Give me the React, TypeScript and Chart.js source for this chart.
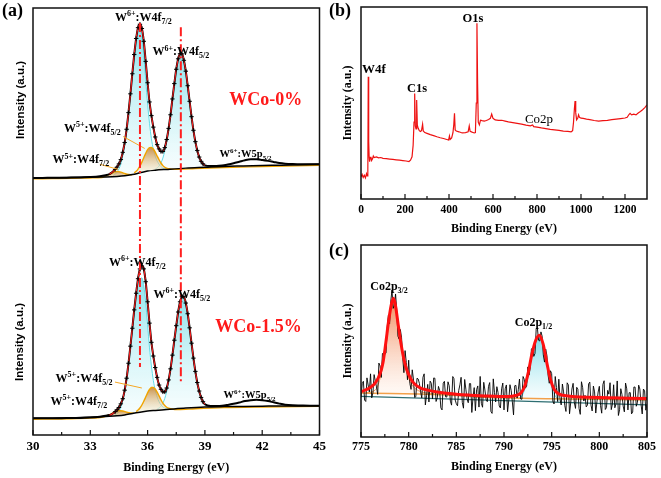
import React, { useEffect, useRef } from 'react';
import { Chart, registerables } from 'chart.js';

Chart.register(...registerables);

const SERIF = '"Liberation Serif", "Times New Roman", serif';
const SANS = '"Liberation Sans", Arial, sans-serif';

// ================= (a) W 4f spectra =================
const aMinorTicks = [31.5, 34.5, 37.5, 40.5, 43.5];
const aX = [30, 30.5, 31, 31.5, 32, 32.5, 33, 33.5, 33.8,
  34.0, 34.1, 34.2, 34.3, 34.4, 34.5, 34.6, 34.7, 34.8, 34.9,
  35.0, 35.1, 35.2, 35.3, 35.4, 35.5, 35.6, 35.7, 35.8, 35.9,
  36.0, 36.1, 36.2, 36.3, 36.4, 36.5, 36.6, 36.7, 36.8, 36.9,
  37.0, 37.1, 37.2, 37.3, 37.4, 37.5, 37.6, 37.7, 37.8, 37.9,
  38.0, 38.1, 38.2, 38.3, 38.4, 38.5, 38.6, 38.7, 38.8, 38.9,
  39.0, 39.3, 39.6, 39.9, 40.2, 40.5, 40.8, 41.1, 41.4, 41.7,
  42.0, 42.3, 42.6, 42.9, 43.2, 43.6, 44.0, 44.5, 45.0];
const aUpper = [60.2, 60.2, 60.25, 60.25, 60.3, 60.3, 60.4, 60.6, 60.85,
  61.1, 61.4, 61.75, 62.2, 62.75, 63.5, 64.5, 66.2, 68.5, 71.6,
  75.5, 79.9, 84.6, 89.1, 92.85, 95.4, 96.2, 95.2, 92.2, 87.5,
  82.5, 78.0, 74.8, 72.1, 69.8, 68.0, 67.0, 66.4, 66.4, 67.3,
  69.2, 71.8, 75.0, 78.7, 82.3, 85.65, 88.1, 89.3, 89.25, 87.75,
  85.2, 81.8, 78.15, 74.55, 71.36, 68.7, 66.65, 65.1, 64.1, 63.5,
  63.15, 63.0, 63.0, 63.1, 63.35, 63.65, 64.0, 64.35, 64.55, 64.55,
  64.4, 64.2, 63.95, 63.7, 63.55, 63.45, 63.4, 63.4, 63.4];
const aLower = [3.9, 3.9, 3.95, 3.95, 4.0, 4.0, 4.1, 4.3, 4.5,
  4.67, 4.8, 5.1, 5.45, 5.9, 6.45, 7.3, 8.5, 10.5, 13.3,
  16.8, 20.8, 25.0, 29.3, 33.2, 36.6, 38.9, 39.6, 38.9, 35.9,
  31.2, 26.2, 21.7, 18.5, 15.8, 13.5, 11.7, 10.7, 10.1, 10.1,
  11.0, 12.9, 15.5, 18.7, 22.2, 25.6, 28.8, 31.2, 32.4, 32.35,
  30.9, 28.4, 25.1, 21.5, 18.0, 14.9, 12.3, 10.3, 8.8, 7.8,
  7.2, 6.8, 6.8, 6.85, 7.05, 7.3, 7.6, 7.95, 8.15, 8.25,
  8.15, 7.95, 7.65, 7.35, 7.1, 6.95, 6.9, 6.85, 6.85];

const aBgX = [30, 31, 32, 33, 33.8, 34.4, 34.8, 35.2, 35.6, 36.0, 36.4, 37.0, 38.0, 39.0, 40, 41, 42, 43, 44, 45];
const aBgUpper = [60.2, 60.25, 60.3, 60.4, 60.45, 60.55, 60.7, 61.0, 61.4, 61.8, 62.0, 62.2, 62.5, 62.7, 62.9, 63.0, 63.1, 63.2, 63.3, 63.4];
const aBgLower = [3.9, 3.95, 4.0, 4.15, 4.35, 4.5, 4.7, 5.05, 5.35, 5.6, 5.75, 5.95, 6.3, 6.55, 6.65, 6.7, 6.75, 6.8, 6.8, 6.85];

// W6+ 4f7/2
const upW6f72X = [34.2, 34.4, 34.6, 34.8, 35.0, 35.2, 35.4, 35.5, 35.6, 35.7, 35.8, 35.9, 36.0, 36.2, 36.4, 36.6, 36.8, 37.0];
const upW6f72 = [60.77, 61.52, 63.55, 67.94, 75.3, 84.5, 92.3, 94.4, 94.8, 92.8, 88.9, 83.2, 77.5, 69.4, 65.3, 63.4, 62.5, 62.3];
const loW6f72X = [34.3, 34.5, 34.7, 34.9, 35.1, 35.3, 35.5, 35.6, 35.7, 35.8, 35.9, 36.0, 36.1, 36.3, 36.5, 36.7, 36.9, 37.1];
const loW6f72 = [4.73, 5.46, 8.15, 12.8, 20.25, 28.8, 35.8, 36.45, 36.8, 34.9, 31.2, 25.8, 20.4, 12.8, 8.9, 7.05, 6.3, 6.1];
// W6+ 4f5/2
const upW6f52X = [36.4, 36.6, 36.8, 37.0, 37.2, 37.4, 37.6, 37.7, 37.8, 38.0, 38.2, 38.4, 38.6, 38.8, 39.0, 39.2];
const upW6f52 = [62.26, 63.0, 64.86, 68.76, 74.95, 82.3, 88.1, 89.3, 89.25, 85.2, 78.15, 71.36, 66.65, 64.13, 63.15, 62.86];
const loW6f52X = [36.5, 36.7, 36.9, 37.1, 37.3, 37.5, 37.7, 37.8, 37.9, 38.1, 38.3, 38.5, 38.7, 38.9, 39.1, 39.3];
const loW6f52 = [6.03, 6.75, 8.57, 12.29, 18.26, 25.33, 30.9, 32.03, 31.97, 28.13, 21.4, 14.85, 10.34, 7.97, 6.99, 6.69];
// W5+ 4f7/2
const upW5f72X = [30, 31, 32, 33, 33.6, 33.8, 34.0, 34.2, 34.4, 34.6, 34.8, 35.0, 35.2];
const upW5f72 = [60.0, 60.05, 60.1, 60.2, 60.3, 60.65, 61.04, 61.48, 61.75, 61.58, 61.24, 61.0, 60.95];
const loW5f72X = [30, 31, 32, 33, 33.6, 33.9, 34.1, 34.3, 34.5, 34.7, 34.9, 35.1, 35.3];
const loW5f72 = [3.7, 3.75, 3.8, 3.95, 4.15, 4.57, 4.96, 5.46, 5.75, 5.63, 5.34, 5.15, 5.12];
// W5+ 4f5/2
const upW5f52X = [35.3, 35.4, 35.5, 35.6, 35.7, 35.8, 35.9, 36.0, 36.1, 36.2, 36.3, 36.4, 36.5, 36.6, 36.7, 36.8, 36.9, 37.0, 37.1, 37.5, 38.5, 40, 42, 45];
const upW5f52 = [61.39, 61.75, 62.28, 63.0, 63.91, 64.94, 65.96, 66.82, 67.29, 67.34, 66.97, 66.26, 65.34, 64.46, 63.7, 63.08, 62.7, 62.49, 62.34, 62.2, 62.4, 62.65, 62.85, 63.15];
const loW5f52X = [35.4, 35.5, 35.6, 35.7, 35.8, 35.9, 36.0, 36.1, 36.2, 36.3, 36.4, 36.5, 36.6, 36.7, 36.8, 36.9, 37.0, 37.1, 37.2, 37.6, 38.5, 40, 42, 45];
const loW5f52 = [5.49, 5.83, 6.33, 7.02, 7.89, 8.88, 9.86, 10.66, 11.12, 11.16, 10.77, 10.04, 9.16, 8.26, 7.48, 6.9, 6.5, 6.28, 6.16, 5.95, 6.15, 6.4, 6.55, 6.7];

const aRefLineX = [35.6, 37.74];
const aRefLineTop = [96.5, 95.5];
const aRefLineBottom = [15.9, 12.2];

const aLeaderX1 = [34.72, 33.5, 34.29];
const aLeaderY1 = [69.9, 63.4, 12.4];
const aLeaderX2 = [35.85, 34.46, 35.7];
const aLeaderY2 = [67.1, 62.2, 11.0];

// ================= (b) survey =================
const bMinorTicks = [100, 300, 500, 700, 900, 1100];
const svX = [0, 5, 10, 15, 20, 25, 28, 31, 33, 35,
  37, 39, 42, 45, 48, 52, 56, 60, 70, 80,
  90, 100, 115, 130, 145, 160, 175, 190, 205, 218,
  225, 232, 237, 241, 244, 247, 250, 253, 256, 260,
  265, 270, 275, 280, 283, 290, 300, 315, 330, 345,
  360, 375, 390, 398, 402, 405, 412, 418, 422, 425,
  428, 433, 445, 460, 475, 487, 492, 496, 505, 515,
  520, 524, 527, 530, 533, 538, 543, 550, 560, 570,
  580, 588, 594, 600, 610, 625, 640, 655, 670, 690,
  710, 730, 750, 770, 780, 785, 800, 820, 840, 860,
  880, 900, 920, 940, 955, 962, 966, 970, 973, 976,
  980, 985, 989, 993, 1000, 1010, 1025, 1040, 1060, 1080,
  1100, 1120, 1140, 1160, 1180, 1200, 1210, 1218, 1223, 1230,
  1240, 1250, 1260, 1270, 1280, 1290, 1300];
const svY = [11.6, 12.8, 11.2, 12.4, 11.0, 13.2, 12.0, 12.6, 63.7, 30.0,
  22.0, 19.4, 21.5, 22.0, 20.0, 20.8, 22.4, 21.6, 21.9, 21.4,
  21.6, 21.2, 21.0, 20.8, 20.6, 20.4, 20.2, 20.0, 19.8, 19.5,
  20.2, 22.0, 28.0, 40.0, 55.0, 38.0, 36.5, 51.5, 38.5, 36.8,
  35.6, 35.2, 35.6, 38.9, 35.4, 34.6, 34.2, 33.5, 33.0, 32.4,
  31.9, 31.5, 31.0, 30.7, 32.8, 31.0, 31.8, 34.5, 39.0, 44.6,
  36.0, 35.4, 35.0, 34.4, 34.6, 35.0, 38.0, 35.2, 34.8, 34.4,
  34.6, 50.0, 91.5, 60.0, 40.0, 38.6, 41.0, 40.8, 40.6, 40.9,
  41.4, 42.0, 44.2, 42.0, 41.2, 41.0, 41.0, 40.6, 40.2, 39.8,
  39.4, 39.0, 38.5, 38.1, 38.6, 37.7, 37.4, 37.0, 36.7, 36.3,
  36.0, 35.7, 35.4, 35.2, 35.0, 35.6, 40.0, 47.0, 51.0, 45.0,
  41.2, 42.0, 43.8, 42.5, 42.1, 42.0, 41.6, 41.3, 40.9, 40.6,
  40.8, 41.0, 41.3, 41.6, 41.9, 42.2, 42.6, 44.0, 44.6, 43.8,
  44.2, 43.8, 44.8, 45.6, 46.5, 47.6, 49.0];

// ================= (c) Co 2p =================
const cMinorTicks = [777.5, 782.5, 787.5, 792.5, 797.5, 802.5];
const coX = [
  775, 775.125, 775.25, 775.375, 775.5, 775.625, 775.75, 775.875, 776, 776.125, 776.25, 776.375, 776.5, 776.625, 776.75, 776.875, 777, 777.125, 777.25, 777.375,
  777.5, 777.625, 777.75, 777.875, 778, 778.125, 778.25, 778.375, 778.5, 778.625, 778.75, 778.875, 779, 779.125, 779.25, 779.375, 779.5, 779.625, 779.75, 779.875,
  780, 780.125, 780.25, 780.375, 780.5, 780.625, 780.75, 780.875, 781, 781.125, 781.25, 781.375, 781.5, 781.625, 781.75, 781.875, 782, 782.125, 782.25, 782.375,
  782.5, 782.625, 782.75, 782.875, 783, 783.125, 783.25, 783.375, 783.5, 783.625, 783.75, 783.875, 784, 784.125, 784.25, 784.375, 784.5, 784.625, 784.75, 784.875,
  785, 785.125, 785.25, 785.375, 785.5, 785.625, 785.75, 785.875, 786, 786.125, 786.25, 786.375, 786.5, 786.625, 786.75, 786.875, 787, 787.125, 787.25, 787.375,
  787.5, 787.625, 787.75, 787.875, 788, 788.125, 788.25, 788.375, 788.5, 788.625, 788.75, 788.875, 789, 789.125, 789.25, 789.375, 789.5, 789.625, 789.75, 789.875,
  790, 790.125, 790.25, 790.375, 790.5, 790.625, 790.75, 790.875, 791, 791.125, 791.25, 791.375, 791.5, 791.625, 791.75, 791.875, 792, 792.125, 792.25, 792.375,
  792.5, 792.625, 792.75, 792.875, 793, 793.125, 793.25, 793.375, 793.5, 793.625, 793.75, 793.875, 794, 794.125, 794.25, 794.375, 794.5, 794.625, 794.75, 794.875,
  795, 795.125, 795.25, 795.375, 795.5, 795.625, 795.75, 795.875, 796, 796.125, 796.25, 796.375, 796.5, 796.625, 796.75, 796.875, 797, 797.125, 797.25, 797.375,
  797.5, 797.625, 797.75, 797.875, 798, 798.125, 798.25, 798.375, 798.5, 798.625, 798.75, 798.875, 799, 799.125, 799.25, 799.375, 799.5, 799.625, 799.75, 799.875,
  800, 800.125, 800.25, 800.375, 800.5, 800.625, 800.75, 800.875, 801, 801.125, 801.25, 801.375, 801.5, 801.625, 801.75, 801.875, 802, 802.125, 802.25, 802.375,
  802.5, 802.625, 802.75, 802.875, 803, 803.125, 803.25, 803.375, 803.5, 803.625, 803.75, 803.875, 804, 804.125, 804.25, 804.375, 804.5, 804.625, 804.75, 804.875,
  805];
const coRaw = [
  20.6, 27.8, 29.0, 19.25, 18.5, 30.8, 27.1, 23.5, 32.9, 20.4, 22.9, 32.5, 29.2, 26.1, 22.2, 38.5, 37.0, 31.0, 43.5, 43.0,
  43.0, 43.8, 57.5, 63.5, 59.0, 70.8, 76.5, 67.0, 68.5, 74.5, 66.0, 52.5, 51.0, 56.0, 52.0, 41.5, 33.5, 45.0, 38.8, 29.8,
  40.0, 27.9, 24.8, 35.0, 30.2, 20.6, 21.0, 30.6, 30.2, 27.9, 23.6, 20.35, 31.1, 32.9, 16.7, 21.55, 27.4, 18.25, 29.1, 28.0,
  19.9, 30.75, 30.6, 18.5, 20.4, 26.35, 24.3, 15.2, 14.1, 28.05, 29.0, 20.9, 20.8, 28.75, 26.7, 18.65, 16.6, 31.5, 30.4, 19.35,
  17.3, 16.25, 24.2, 27.15, 31.1, 18.05, 15.0, 29.95, 24.9, 19.88, 17.85, 27.83, 27.8, 12.78, 20.75, 25.73, 13.7, 24.65, 26.6, 15.58,
  31.55, 17.53, 15.5, 28.48, 24.45, 19.43, 18.4, 26.38, 28.35, 13.33, 12.3, 30.28, 23.25, 18.23, 26.2, 23.18, 16.15, 15.13, 25.1, 28.1,
  14.1, 25.1, 27.1, 13.13, 19.15, 27.23, 24.3, 18.4, 11.5, 26.7, 26.9, 20.25, 24.6, 30.2, 19.8, 19.65, 31.5, 30.0, 25.5, 26.5,
  36.5, 32.25, 36.0, 45.75, 46.5, 42.0, 43.5, 56.15, 56.8, 50.4, 50.0, 54.75, 52.5, 42.75, 39.0, 45.75, 42.5, 32.25, 28.0, 34.5,
  33.0, 18.6, 17.2, 31.5, 25.8, 18.45, 30.1, 19.9, 16.7, 27.6, 23.5, 16.4, 13.3, 28.23, 27.15, 12.08, 18.0, 24.98, 27.95, 17.93,
  14.9, 25.88, 24.85, 14.83, 11.8, 28.78, 25.75, 18.73, 21.7, 15.68, 16.65, 27.63, 28.6, 16.58, 13.55, 26.53, 23.5, 12.48, 18.45, 23.43,
  26.4, 16.39, 12.4, 27.36, 29.3, 14.33, 15.3, 24.3, 22.3, 28.27, 14.25, 17.24, 27.2, 15.21, 17.2, 29.19, 11.2, 14.17, 25.15, 22.14,
  16.1, 13.11, 28.1, 25.09, 14.1, 23.07, 23.1, 12.05, 13.0, 26.03, 26.0, 16.01, 18.0, 27.0, 25.0, 16.99, 12.0, 24.97, 24.0, 13.96,
  16.95];
const coFitX = [775, 775.5, 776, 776.5, 777, 777.3, 777.6, 777.9, 778.2, 778.4,
  778.6, 778.9, 779.2, 779.5, 779.8, 780.2, 780.6, 781.2, 782, 783,
  784, 785, 786.5, 788, 789.5, 790.5, 791.2, 791.7, 792.1, 792.5,
  792.9, 793.3, 793.7, 794.1, 794.5, 794.9, 795.3, 795.8, 796.5, 797.5,
  799, 801, 803, 805];
const coFit = [23.6, 24.5, 25.9, 28.2, 33.0, 38.5, 49.0, 60.5, 69.5, 72.3,
  69.0, 58.5, 48.5, 40.5, 35.0, 30.5, 27.7, 25.6, 24.4, 23.4,
  22.8, 22.3, 21.8, 21.4, 21.1, 21.1, 21.6, 22.6, 25.5, 32.5,
  42.5, 50.0, 53.0, 48.5, 38.5, 29.5, 24.5, 22.3, 21.5, 21.0,
  20.7, 20.4, 20.2, 20.0];
const coP32X = [775.5, 776.5, 777, 777.5, 778, 778.4, 778.8, 779.3, 779.8, 780.3, 781, 782, 783.5];
const coP32 = [23.0, 24.5, 30.5, 43.5, 62.5, 71.0, 63.0, 45.5, 33.5, 27.5, 24.2, 22.9, 22.2];
const coP32BaseX = [775, 778, 781, 784, 787, 790, 795, 800, 805];
const coP32Base = [22.9, 22.7, 22.4, 21.9, 21.0, 20.4, 19.9, 19.6, 19.3];
const coP12X = [791.5, 792, 792.5, 792.9, 793.3, 793.7, 794.1, 794.5, 794.9, 795.3, 795.8];
const coP12 = [19.8, 22.5, 31.0, 41.5, 49.5, 52.2, 47.5, 37.5, 28.0, 22.0, 19.0];
const coBgX = [775, 805];
const coBg = [21.2, 16.7];

// ================= helpers =================
const pts = (xs: number[], ys: number[]) => xs.map((x, i) => ({ x, y: ys[i] }));

type Part = { t: string; s?: 'sup' | 'sub' };
type Note = { x: number; y: number; parts: Part[]; size: number; weight?: string; color?: string };

const W6f72: Part[] = [{ t: 'W' }, { t: '6+', s: 'sup' }, { t: ':W4f' }, { t: '7/2', s: 'sub' }];
const W6f52: Part[] = [{ t: 'W' }, { t: '6+', s: 'sup' }, { t: ':W4f' }, { t: '5/2', s: 'sub' }];
const W5f72: Part[] = [{ t: 'W' }, { t: '5+', s: 'sup' }, { t: ':W4f' }, { t: '7/2', s: 'sub' }];
const W5f52: Part[] = [{ t: 'W' }, { t: '5+', s: 'sup' }, { t: ':W4f' }, { t: '5/2', s: 'sub' }];
const W6p52: Part[] = [{ t: 'W' }, { t: '6+', s: 'sup' }, { t: ':W5p' }, { t: '5/2', s: 'sub' }];

const aNotes: Note[] = [
  { x: 35.78, y: 98.0, parts: W6f72, size: 12 },
  { x: 37.74, y: 89.9, parts: W6f52, size: 12 },
  { x: 42.18, y: 78.8, parts: [{ t: 'WCo-0%' }], size: 18, color: '#ff1a1a' },
  { x: 33.11, y: 72.0, parts: W5f52, size: 12 },
  { x: 32.51, y: 64.6, parts: W5f72, size: 12 },
  { x: 41.13, y: 65.9, parts: W6p52, size: 10.5 },
  { x: 35.46, y: 40.6, parts: W6f72, size: 12 },
  { x: 37.79, y: 33.1, parts: W6f52, size: 12 },
  { x: 41.81, y: 25.5, parts: [{ t: 'WCo-1.5%' }], size: 18, color: '#ff1a1a' },
  { x: 32.67, y: 13.5, parts: W5f52, size: 12 },
  { x: 32.4, y: 8.0, parts: W5f72, size: 12 },
  { x: 41.34, y: 9.5, parts: W6p52, size: 10.5 },
];
const bNotes: Note[] = [
  { x: 59, y: 68.2, parts: [{ t: 'W4f' }], size: 13 },
  { x: 254.5, y: 57.8, parts: [{ t: 'C1s' }], size: 12.5 },
  { x: 509, y: 94.3, parts: [{ t: 'O1s' }], size: 12.5 },
  { x: 809, y: 42.2, parts: [{ t: 'Co2p' }], size: 13, weight: 'normal' },
];
const cNotes: Note[] = [
  { x: 777.94, y: 78.6, parts: [{ t: 'Co2p' }, { t: '3/2', s: 'sub' }], size: 12 },
  { x: 793.1, y: 59.9, parts: [{ t: 'Co2p' }, { t: '1/2', s: 'sub' }], size: 12 },
];

function drawNotes(chart: any, notes: Note[]) {
  const { ctx, scales } = chart;
  ctx.save();
  ctx.textAlign = 'left';
  ctx.textBaseline = 'alphabetic';
  for (const n of notes) {
    const px = scales.x.getPixelForValue(n.x);
    const py = scales.y.getPixelForValue(n.y);
    const small = Math.round(n.size * 0.7);
    const f = (sz: number) => `${n.weight ?? 'bold'} ${sz}px ${SERIF}`;
    let w = 0;
    for (const p of n.parts) {
      ctx.font = f(p.s ? small : n.size);
      w += ctx.measureText(p.t).width;
    }
    let cx = px - w / 2;
    const base = py + n.size * 0.35;
    ctx.fillStyle = n.color ?? '#000';
    for (const p of n.parts) {
      const sz = p.s ? small : n.size;
      ctx.font = f(sz);
      const dy = p.s === 'sup' ? -n.size * 0.4 : p.s === 'sub' ? n.size * 0.25 : 0;
      ctx.fillText(p.t, cx, base + dy);
      cx += ctx.measureText(p.t).width;
    }
  }
  ctx.restore();
}

function framePlugin(minor: number[]) {
  return {
    id: 'frame',
    afterDatasetsDraw(chart: any) {
      const { ctx, chartArea: a, scales } = chart;
      const x = scales.x;
      ctx.save();
      ctx.strokeStyle = '#111';
      ctx.lineWidth = 1.5;
      ctx.strokeRect(a.left, a.top, a.right - a.left, a.bottom - a.top);
      ctx.lineWidth = 1.2;
      ctx.beginPath();
      for (const t of x.ticks) {
        const p = x.getPixelForValue(t.value);
        ctx.moveTo(p, a.bottom);
        ctx.lineTo(p, a.bottom - 5);
      }
      for (const v of minor) {
        const p = x.getPixelForValue(v);
        ctx.moveTo(p, a.bottom);
        ctx.lineTo(p, a.bottom - 3);
      }
      ctx.stroke();
      ctx.restore();
    },
  };
}

function notesPlugin(notes: Note[], vTitles: { text: string; x: number; y: number }[] = []) {
  return {
    id: 'notes',
    afterDraw(chart: any) {
      drawNotes(chart, notes);
      const { ctx } = chart;
      for (const t of vTitles) {
        ctx.save();
        ctx.translate(t.x, t.y);
        ctx.rotate(-Math.PI / 2);
        ctx.font = `bold 11.5px ${SANS}`;
        ctx.fillStyle = '#000';
        ctx.textAlign = 'center';
        ctx.textBaseline = 'middle';
        ctx.fillText(t.text, 0, 0);
        ctx.restore();
      }
    },
  };
}

const grad = (top: string, bottom: string, hi: number, lo: number) => (c: any) => {
  const ch = c.chart;
  if (!ch.chartArea) return top;
  const y = ch.scales.y;
  const g = ch.ctx.createLinearGradient(0, y.getPixelForValue(hi), 0, y.getPixelForValue(lo));
  g.addColorStop(0, top);
  g.addColorStop(1, bottom);
  return g;
};

const line = (data: any[], color: string, width: number, order: number, extra: any = {}) => ({
  data,
  borderColor: color,
  backgroundColor: color,
  borderWidth: width,
  pointRadius: 0,
  order,
  fill: false,
  cubicInterpolationMode: 'monotone',
  ...extra,
});

const TRANSPARENT = 'rgba(0,0,0,0)';
const CYAN_LINE = '#62dbe6';
const CYAN_TOP = 'rgba(120,222,232,0.85)';
const CYAN_BOT = 'rgba(228,249,251,0.35)';
const ORANGE_LINE = '#f0a400';
const ORANGE_TOP = 'rgba(196,134,58,0.9)';
const ORANGE_BOT = 'rgba(252,236,200,0.4)';

const xTickFont = (size: number) => ({ family: SERIF, weight: 'bold' as const, size });
const titleFont = { family: SERIF, weight: 'bold' as const, size: 12 };

function configA(): any {
  const ds: any[] = [];
  const add = (d: any) => { ds.push(d); return ds.length - 1; };
  const bgU = add(line(pts(aBgX, aBgUpper), '#000', 1.5, 4));
  const bgL = add(line(pts(aBgX, aBgLower), '#000', 1.5, 4));
  const comp = (xs: number[], ys: number[], target: number, cyan: boolean) => {
    const hi = Math.max(...ys);
    const lo = Math.min(...ys);
    add(line(pts(xs, ys), cyan ? CYAN_LINE : ORANGE_LINE, cyan ? 1 : 1.4, cyan ? 6 : 5, {
      fill: { target, below: TRANSPARENT },
      backgroundColor: cyan ? grad(CYAN_TOP, CYAN_BOT, hi, lo) : grad(ORANGE_TOP, ORANGE_BOT, hi, lo),
    }));
  };
  comp(upW6f72X, upW6f72, bgU, true);
  comp(upW6f52X, upW6f52, bgU, true);
  comp(loW6f72X, loW6f72, bgL, true);
  comp(loW6f52X, loW6f52, bgL, true);
  comp(upW5f72X, upW5f72, bgU, false);
  comp(upW5f52X, upW5f52, bgU, false);
  comp(loW5f72X, loW5f72, bgL, false);
  comp(loW5f52X, loW5f52, bgL, false);
  add(line(pts(aX, aUpper), '#000', 2, 3));
  add(line(pts(aX, aLower), '#000', 2, 3));
  add(line(pts(aX.slice(9, 60), aUpper.slice(9, 60)), '#ff2020', 1.1, 2));
  add(line(pts(aX.slice(9, 60), aLower.slice(9, 60)), '#ff2020', 1.1, 2));
  const marker = {
    showLine: false, pointRadius: 2.2, pointStyle: 'cross', pointBorderColor: '#000',
    pointBorderWidth: 1, pointBackgroundColor: '#000',
  };
  add(line(pts(aX.slice(12, 59), aUpper.slice(12, 59)), '#000', 1, 1, marker));
  add(line(pts(aX.slice(12, 59), aLower.slice(12, 59)), '#000', 1, 1, marker));
  aRefLineX.forEach((x, i) => {
    add(line([{ x, y: aRefLineTop[i] }, { x, y: aRefLineBottom[i] }], '#ff1f1f', 2, 0, {
      borderDash: [9, 3, 2, 3], cubicInterpolationMode: 'default',
    }));
  });
  aLeaderX1.forEach((x, i) => {
    add(line([{ x, y: aLeaderY1[i] }, { x: aLeaderX2[i], y: aLeaderY2[i] }], '#f5a623', 1, 0, {
      cubicInterpolationMode: 'default',
    }));
  });
  return {
    type: 'line',
    data: { datasets: ds },
    options: {
      animation: false,
      responsive: false,
      events: [],
      layout: { padding: { left: 33, right: 10, top: 8, bottom: 0 } },
      plugins: { legend: { display: false }, tooltip: { enabled: false } },
      scales: {
        x: {
          type: 'linear', min: 30, max: 45,
          grid: { display: false, drawTicks: false }, border: { display: false },
          ticks: { stepSize: 3, padding: 4, color: '#000', font: xTickFont(13), maxRotation: 0, callback: (v: any) => String(v) },
          title: { display: true, text: 'Binding Energy (eV)', color: '#000', font: titleFont, padding: { top: 0, bottom: 3 } },
          afterFit: (s: any) => { s.height = 43; },
        },
        y: { type: 'linear', display: false, min: 0, max: 100 },
      },
    },
    plugins: [
      framePlugin(aMinorTicks),
      notesPlugin(aNotes, [
        { text: 'Intensity (a.u.)', x: 21, y: 100 },
        { text: 'Intensity (a.u.)', x: 20, y: 342 },
      ]),
    ],
  };
}

const yTitled = {
  type: 'linear', min: 0, max: 100,
  grid: { display: false, drawTicks: false }, border: { display: false },
  ticks: { display: false },
  title: { display: true, text: 'Intensity (a.u.)', color: '#000', font: titleFont, padding: { top: 11, bottom: 0 } },
  afterFit: (s: any) => { s.width = 31; },
};

function configB(): any {
  return {
    type: 'line',
    data: { datasets: [line(pts(svX, svY), '#ee1111', 1.2, 0, { cubicInterpolationMode: 'default' })] },
    options: {
      animation: false,
      responsive: false,
      events: [],
      layout: { padding: { left: 0, right: 14, top: 7, bottom: 0 } },
      plugins: { legend: { display: false }, tooltip: { enabled: false } },
      scales: {
        x: {
          type: 'linear', min: 0, max: 1300,
          grid: { display: false, drawTicks: false }, border: { display: false },
          ticks: { stepSize: 200, includeBounds: false, padding: 4, color: '#000', font: xTickFont(11.5), maxRotation: 0, callback: (v: any) => String(v) },
          title: { display: true, text: 'Binding Energy (eV)', color: '#000', font: titleFont, padding: { top: 0, bottom: 4 } },
          afterFit: (s: any) => { s.height = 41; },
        },
        y: yTitled,
      },
    },
    plugins: [framePlugin(bMinorTicks), notesPlugin(bNotes)],
  };
}

function configC(): any {
  const ds: any[] = [];
  const add = (d: any) => { ds.push(d); return ds.length - 1; };
  add(line(pts(coFitX, coFit), '#ff1010', 3, 0));
  add(line(pts(coX, coRaw), '#000', 0.9, 1, { cubicInterpolationMode: 'default' }));
  const bg = add(line(pts(coBgX, coBg), '#2e6e72', 1.2, 2, { cubicInterpolationMode: 'default' }));
  const base = add(line(pts(coP32BaseX, coP32Base), '#f2a04a', 1.5, 3));
  add(line(pts(coP12X, coP12), '#6fd5e0', 1, 4, {
    fill: { target: bg, below: TRANSPARENT },
    backgroundColor: grad('rgba(110,215,228,0.9)', 'rgba(236,250,252,0.4)', Math.max(...coP12), Math.min(...coP12)),
  }));
  add(line(pts(coP32X, coP32), '#f39a5a', 1, 5, {
    fill: { target: base, below: TRANSPARENT },
    backgroundColor: grad('rgba(240,128,78,0.9)', 'rgba(255,242,232,0.4)', Math.max(...coP32), Math.min(...coP32)),
  }));
  return {
    type: 'line',
    data: { datasets: ds },
    options: {
      animation: false,
      responsive: false,
      events: [],
      layout: { padding: { left: 0, right: 14, top: 7, bottom: 0 } },
      plugins: { legend: { display: false }, tooltip: { enabled: false } },
      scales: {
        x: {
          type: 'linear', min: 775, max: 805,
          grid: { display: false, drawTicks: false }, border: { display: false },
          ticks: { stepSize: 5, padding: 3, color: '#000', font: xTickFont(12), maxRotation: 0, callback: (v: any) => String(v) },
          title: { display: true, text: 'Binding Energy (eV)', color: '#000', font: titleFont, padding: { top: 0, bottom: 4 } },
          afterFit: (s: any) => { s.height = 41; },
        },
        y: yTitled,
      },
    },
    plugins: [framePlugin(cMinorTicks), notesPlugin(cNotes)],
  };
}

const panelLabel = (left: number, top: number): React.CSSProperties => ({
  position: 'absolute', left, top, font: `bold 18px ${SERIF}`, lineHeight: '20px', color: '#000',
});

export default function App() {
  const refA = useRef<HTMLCanvasElement>(null);
  const refB = useRef<HTMLCanvasElement>(null);
  const refC = useRef<HTMLCanvasElement>(null);

  useEffect(() => {
    const charts = [
      new Chart(refA.current as HTMLCanvasElement, configA()),
      new Chart(refB.current as HTMLCanvasElement, configB()),
      new Chart(refC.current as HTMLCanvasElement, configC()),
    ];
    return () => charts.forEach((c) => c.destroy());
  }, []);

  return (
    <div style={{ position: 'absolute', left: 0, top: 0, width: 661, height: 478, background: '#fff', overflow: 'hidden' }}>
      <canvas ref={refA} width={330} height={478} style={{ position: 'absolute', left: 0, top: 0 }} />
      <canvas ref={refB} width={331} height={240} style={{ position: 'absolute', left: 330, top: 0 }} />
      <canvas ref={refC} width={331} height={240} style={{ position: 'absolute', left: 330, top: 238 }} />
      <div style={panelLabel(2, 0)}>(a)</div>
      <div style={panelLabel(329, 0)}>(b)</div>
      <div style={panelLabel(329, 240)}>(c)</div>
    </div>
  );
}
